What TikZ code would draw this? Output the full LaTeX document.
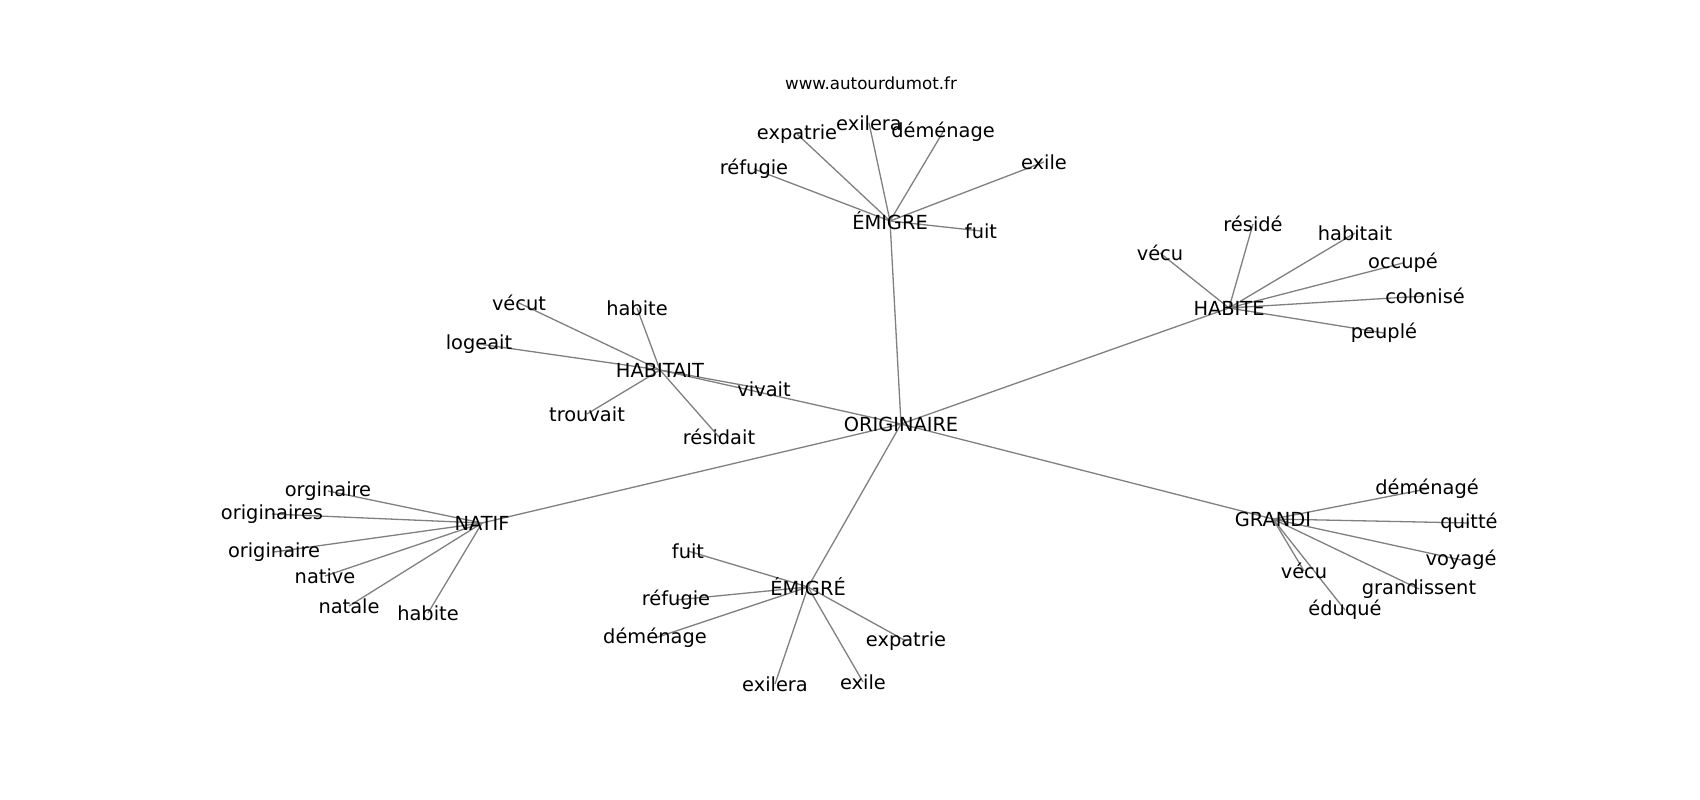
\documentclass[tikz,border=0pt]{standalone}
\usepackage{fontspec}
\setmainfont{DejaVu Sans}
\usetikzlibrary{backgrounds}
\begin{document}
\begin{tikzpicture}[x=1pt,y=-1pt,
  lbl/.style={inner sep=0pt,anchor=center,font=\fontsize{19.4}{23}\selectfont},
  url/.style={inner sep=0pt,anchor=center,font=\fontsize{16.7}{20}\selectfont},
  edge/.style={draw=black!50,line width=1.3pt}]
\useasboundingbox (0,0) rectangle (1700,800);
\node[url] (url) at (871,83) {www.autourdumot.fr};
% hub
\node[lbl] (orig) at (901,424) {ORIGINAIRE};
% EMIGRE
\node[lbl] (emigre) at (890,221) {ÉMIGRE};
\node[lbl] (expatA) at (797,134) {expatrie};
\node[lbl] (exileraA) at (869,123) {exilera};
\node[lbl] (demenA) at (943,132) {déménage};
\node[lbl] (refugA) at (754,169) {réfugie};
\node[lbl] (exileA) at (1044,162) {exile};
\node[lbl] (fuitA) at (981,231) {fuit};
% HABITE
\node[lbl] (habite) at (1229,308) {HABITE};
\node[lbl] (vecuA) at (1160,253) {vécu};
\node[lbl] (reside) at (1253,224) {résidé};
\node[lbl] (habitaitB) at (1355,233) {habitait};
\node[lbl] (occupe) at (1403,263) {occupé};
\node[lbl] (colonise) at (1425,296) {colonisé};
\node[lbl] (peuple) at (1384,333) {peuplé};
% HABITAIT
\node[lbl] (habitait) at (660,370) {HABITAIT};
\node[lbl] (vecut) at (519,303) {vécut};
\node[lbl] (habiteB) at (637,308) {habite};
\node[lbl] (logeait) at (479,344) {logeait};
\node[lbl] (vivait) at (764,389) {vivait};
\node[lbl] (trouvait) at (587,414) {trouvait};
\node[lbl] (residait) at (719,437) {résidait};
% NATIF
\node[lbl] (natif) at (482,523) {NATIF};
\node[lbl] (orginaire) at (328,491) {orginaire};
\node[lbl] (originaires) at (272,514) {originaires};
\node[lbl] (originaire) at (274,552) {originaire};
\node[lbl] (native) at (325,576) {native};
\node[lbl] (natale) at (349,606) {natale};
\node[lbl] (habiteC) at (428,613) {habite};
% EMIGRE (accent)
\node[lbl] (emigreB) at (808,587) {ÉMIGRÉ};
\node[lbl] (fuitB) at (688,551) {fuit};
\node[lbl] (refugB) at (676,600) {réfugie};
\node[lbl] (demenB) at (655,638) {déménage};
\node[lbl] (expatB) at (906,641) {expatrie};
\node[lbl] (exileraB) at (775,684) {exilera};
\node[lbl] (exileB) at (863,682) {exile};
% GRANDI
\node[lbl] (grandi) at (1273,519) {GRANDI};
\node[lbl] (demenC) at (1427,489) {déménagé};
\node[lbl] (quitte) at (1469,523) {quitté};
\node[lbl] (voyage) at (1461,560) {voyagé};
\node[lbl] (grandissent) at (1419,589) {grandissent};
\node[lbl] (vecuB) at (1304,571) {vécu};
\node[lbl] (eduque) at (1345,610) {éduqué};
\begin{scope}[on background layer]
\fill[white] (0,0) rectangle (1700,800);
\foreach \a/\b in {orig/emigre,orig/habite,orig/habitait,orig/natif,orig/emigreB,orig/grandi,
  emigre/expatA,emigre/exileraA,emigre/demenA,emigre/refugA,emigre/exileA,emigre/fuitA,
  habite/vecuA,habite/reside,habite/habitaitB,habite/occupe,habite/colonise,habite/peuple,
  habitait/vecut,habitait/habiteB,habitait/logeait,habitait/vivait,habitait/trouvait,habitait/residait,
  natif/orginaire,natif/originaires,natif/originaire,natif/native,natif/natale,natif/habiteC,
  emigreB/fuitB,emigreB/refugB,emigreB/demenB,emigreB/expatB,emigreB/exileraB,emigreB/exileB,
  grandi/demenC,grandi/quitte,grandi/voyage,grandi/grandissent,grandi/vecuB,grandi/eduque}
  \draw[edge] (\a.center) -- (\b.center);
\end{scope}
\end{tikzpicture}
\end{document}
